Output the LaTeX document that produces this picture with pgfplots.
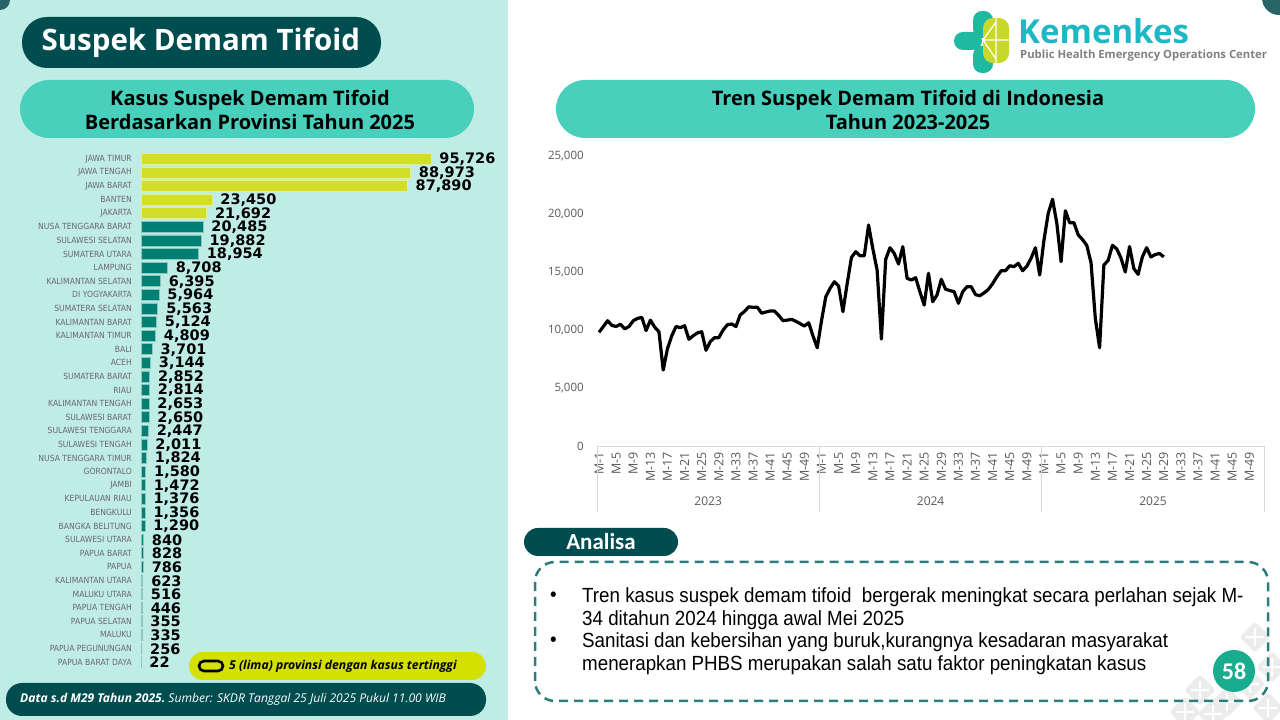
\documentclass[border=0pt]{standalone}
\usepackage{fontspec}
\setmainfont{Open Sans}
\newfontfamily\dvs{DejaVu Sans}
\newfontfamily\dvc{DejaVu Sans Condensed}
\newfontfamily\narrow{Liberation Sans}[FakeStretch=0.915]
\newfontfamily\carl{Carlito}
\usepackage{pgfplots}
\pgfplotsset{compat=1.18}
\usepackage{pgfplotstable}

\definecolor{leftbg}{RGB}{192,236,230}
\definecolor{darkteal}{RGB}{0,77,80}
\definecolor{pilltq}{RGB}{72,208,188}
\definecolor{limepill}{RGB}{212,224,0}
\definecolor{limebar}{RGB}{210,222,40}
\definecolor{tealbar}{RGB}{0,128,115}
\definecolor{dashteal}{RGB}{46,125,125}
\definecolor{circ}{RGB}{26,172,142}
\definecolor{kem}{RGB}{30,183,196}
\definecolor{logoteal}{RGB}{29,185,160}
\definecolor{logolime}{RGB}{200,217,44}
\definecolor{tickgray}{RGB}{89,89,89}
\definecolor{provgray}{RGB}{105,105,105}
\definecolor{corner}{RGB}{40,100,100}
\definecolor{batik}{RGB}{236,236,236}

% kasus per provinsi 2025 (5 tertinggi)
\pgfplotstableread{
idx val
0 95726
1 88973
2 87890
3 23450
4 21692
}\topfive

\pgfplotstableread{
idx val
5 20485
6 19882
7 18954
8 8708
9 6395
10 5964
11 5563
12 5124
13 4809
14 3701
15 3144
16 2852
17 2814
18 2653
19 2650
20 2447
21 2011
22 1824
23 1580
24 1472
25 1376
26 1356
27 1290
28 840
29 828
30 786
31 623
32 516
33 446
34 355
35 335
36 256
37 22
}\others

% tren mingguan: k = minggu ke- sejak M-1 2023
\pgfplotstableread{
k v
0 9800
1 10300
2 10800
3 10400
4 10300
5 10500
6 10100
7 10300
8 10800
9 11000
10 11090
11 9950
12 10850
13 10250
14 9850
15 6550
16 8400
17 9500
18 10300
19 10200
20 10370
21 9200
22 9500
23 9750
24 9850
25 8250
26 9000
27 9340
28 9340
29 10000
30 10450
31 10520
32 10300
33 11300
34 11600
35 12000
36 11950
37 11960
38 11450
39 11550
40 11640
41 11640
42 11250
43 10800
44 10850
45 10920
46 10750
47 10550
48 10340
49 10630
50 9500
51 8470
52 10800
53 12870
54 13590
55 14160
56 13790
57 11580
58 14000
59 16260
60 16750
61 16400
62 16400
63 19050
64 17000
65 15170
66 9220
67 16090
68 17090
69 16610
70 15690
71 17180
72 14460
73 14310
74 14510
75 13300
76 12150
77 14890
78 12440
79 13020
80 14370
81 13510
82 13400
83 13300
84 12300
85 13300
86 13730
87 13730
88 13050
89 12950
90 13200
91 13500
92 14000
93 14600
94 15110
95 15110
96 15540
97 15460
98 15750
99 15110
100 15500
101 16200
102 17090
103 14740
104 17760
105 20060
106 21270
107 19200
108 15890
109 20280
110 19250
111 19250
112 18200
113 17800
114 17300
115 15800
116 11000
117 8470
118 15600
119 16000
120 17300
121 17000
122 16200
123 15000
124 17200
125 15300
126 14800
127 16300
128 17100
129 16300
130 16500
131 16600
132 16300
}\trend

\begin{document}
\begin{tikzpicture}[x=1pt,y=1pt]
\useasboundingbox (0,0) rectangle (1280,720);
\clip (0,0) rectangle (1280,720);
\fill[white] (0,0) rectangle (1280,720);
\fill[leftbg] (0,0) rectangle (508,720);
\fill[corner] (0,720) circle (10);
\fill[corner] (1279,722) circle (17);

% judul
\fill[darkteal, rounded corners=25pt] (22,720-68) rectangle (381,720-17);
\node[anchor=west, text=white, font=\bfseries\fontsize{29.5}{33}\selectfont] at (38,720-43) {Suspek Demam Tifoid};

\fill[pilltq, rounded corners=29pt] (20,720-138) rectangle (474,720-80);
\node[align=center, font=\bfseries\fontsize{20}{24}\selectfont] at (250,720-110) {Kasus Suspek Demam Tifoid\\Berdasarkan Provinsi Tahun 2025};

\fill[pilltq, rounded corners=29pt] (556,720-138) rectangle (1255,720-80);
\node[align=center, font=\bfseries\fontsize{20}{24}\selectfont] at (908,720-110) {Tren Suspek Demam Tifoid di Indonesia\\Tahun 2023-2025};

% logo
\fill[logoteal, rounded corners=9pt] (973,720-38) rectangle (993,720-11);
\fill[logoteal, rounded corners=9pt] (954,720-50) rectangle (982,720-32);
\fill[logoteal, rounded corners=9pt] (973,720-73) rectangle (993,720-46);
\fill[logolime, rounded corners=10pt] (983,720-63) rectangle (1009,720-18);
\draw[white, line width=1.2pt] (983,720-40) -- (1009,720-40) (996,720-18) -- (996,720-63) (983,720-40) -- (996,720-22) (983,720-40) -- (996,720-59);
\node[anchor=west, text=kem, inner sep=0, font=\bfseries\fontsize{33}{36}\selectfont] at (1018,720-31) {Kemenkes};
\node[anchor=west, text=gray, inner sep=0, font=\bfseries\fontsize{11.3}{13}\selectfont] at (1020,720-56) {Public Health Emergency Operations Center};

% grafik batang provinsi
\begin{axis}[
  at={(141pt,51.2pt)}, anchor=south west, scale only axis,
  width=363.6pt, height=516.8pt,
  xbar, bar width=11pt,
  xmin=0, xmax=120000, ymin=-0.5, ymax=37.5, y dir=reverse,
  axis line style={draw=none}, xtick=\empty, major tick length=0pt, tick style={draw=none},
  ytick={0,...,37},
  yticklabels={JAWA TIMUR,JAWA TENGAH,JAWA BARAT,BANTEN,JAKARTA,NUSA TENGGARA BARAT,SULAWESI SELATAN,SUMATERA UTARA,LAMPUNG,KALIMANTAN SELATAN,DI YOGYAKARTA,SUMATERA SELATAN,KALIMANTAN BARAT,KALIMANTAN TIMUR,BALI,ACEH,SUMATERA BARAT,RIAU,KALIMANTAN TENGAH,SULAWESI BARAT,SULAWESI TENGGARA,SULAWESI TENGAH,NUSA TENGGARA TIMUR,GORONTALO,JAMBI,KEPULAUAN RIAU,BENGKULU,BANGKA BELITUNG,SULAWESI UTARA,PAPUA BARAT,PAPUA,KALIMANTAN UTARA,MALUKU UTARA,PAPUA TENGAH,PAPUA SELATAN,MALUKU,PAPUA PEGUNUNGAN,PAPUA BARAT DAYA},
  yticklabel style={font=\dvc\fontsize{8.5}{10}\selectfont, text=provgray, inner sep=0pt, xshift=-9pt},
  clip=false,
  point meta=x,
  nodes near coords={\pgfmathprintnumber[fixed,precision=0,1000 sep={,},assume math mode=true]{\pgfplotspointmeta}},
  nodes near coords align=horizontal,
  every node near coord/.append style={font=\dvs\bfseries\fontsize{14.5}{16}\selectfont, text=black, inner sep=0pt, xshift=8pt, yshift=-0.5pt},
]
\addplot[fill=limebar, draw=limebar!55!white, line width=0.8pt, bar shift=0pt] table[x=val,y=idx]{\topfive};
\addplot[fill=tealbar, draw=tealbar!45!white, line width=0.8pt, bar shift=0pt] table[x=val,y=idx]{\others};
\end{axis}

% legenda dan sumber
\fill[limepill, rounded corners=14pt] (189,720-680) rectangle (486,720-652);
\draw[black, line width=2.6pt, rounded corners=5pt] (199,720-671) rectangle (223,720-661);
\node[anchor=west, inner sep=0, font=\bfseries\itshape\fontsize{12.2}{14}\selectfont] at (229,720-666) {5 (lima) provinsi dengan kasus tertinggi};
\fill[darkteal, rounded corners=16pt] (6,720-716) rectangle (486,720-683);
\node[anchor=west, inner sep=0, text=white, font=\itshape\fontsize{12.1}{14}\selectfont] at (20,720-699) {\bfseries Data s.d M29 Tahun 2025.\mdseries\ Sumber: SKDR Tanggal 25 Juli 2025 Pukul 11.00 WIB};

% grafik tren
\begin{axis}[
  at={(596.9pt,274pt)}, anchor=south west, scale only axis,
  width=667.4pt, height=290pt,
  xmin=-0.5, xmax=155.5, ymin=0, ymax=25000,
  axis line style={draw=none}, major tick length=0pt, tick style={draw=none},
  ytick={0,5000,...,25000}, scaled y ticks=false,
  yticklabel style={/pgf/number format/fixed, /pgf/number format/1000 sep={,}, /pgf/number format/assume math mode=true},
  yticklabel style={font=\fontsize{11.5}{13}\selectfont, text=tickgray, inner sep=0pt, xshift=-13pt},
  xtick={0,4,...,152},
  xticklabels={M-1,M-5,M-9,M-13,M-17,M-21,M-25,M-29,M-33,M-37,M-41,M-45,M-49,M-1,M-5,M-9,M-13,M-17,M-21,M-25,M-29,M-33,M-37,M-41,M-45,M-49,M-1,M-5,M-9,M-13,M-17,M-21,M-25,M-29,M-33,M-37,M-41,M-45,M-49},
  xticklabel style={rotate=90, anchor=east, inner sep=0pt, font=\fontsize{12.5}{14}\selectfont, text=tickgray},
  xticklabel shift=6pt,
  clip=false,
]
\draw[gray!30, line width=0.8pt] (axis cs:-0.5,0) -- (axis cs:155.5,0);
\pgfplotsinvokeforeach{-0.5,51.5,103.5,155.5}{
  \draw[gray!30, line width=0.8pt] (axis cs:#1,0) -- ++(0pt,-66pt);
}
\node[font=\fontsize{12}{14}\selectfont, text=tickgray, yshift=-55pt] at (axis cs:25.5,0) {2023};
\node[font=\fontsize{12}{14}\selectfont, text=tickgray, yshift=-55pt] at (axis cs:77.5,0) {2024};
\node[font=\fontsize{12}{14}\selectfont, text=tickgray, yshift=-55pt] at (axis cs:129.5,0) {2025};
\addplot[black, line width=3.2pt, line join=round, no marks] table[x=k,y=v]{\trend};
\end{axis}

% motif batik di pojok kanan bawah
\begin{scope}[batik]
\foreach \cx/\cy in {1255/637,1272/667,1250/684,1200/690,1227/702,1268/708,1213/714,1185/712} {
  \fill[rotate around={45:(\cx,720-\cy)}, rounded corners=3pt] (\cx-11,720-\cy-11) rectangle (\cx+11,720-\cy+11);
  \fill[white] (\cx-1,720-\cy-9) rectangle (\cx+1,720-\cy+9);
  \fill[white] (\cx-9,720-\cy-1) rectangle (\cx+9,720-\cy+1);
}
\end{scope}

% analisa
\fill[darkteal, rounded corners=14pt] (524,720-556) rectangle (678,720-528);
\node[text=white, font=\carl\bfseries\fontsize{23}{26}\selectfont] at (601,720-542) {Analisa};
\draw[dashteal, line width=2.5pt, dash pattern=on 9pt off 6pt, rounded corners=20pt] (535,720-701) rectangle (1268,720-562);
\begin{scope}[every node/.style={anchor=west, inner sep=0, font=\narrow\fontsize{20.5}{24}\selectfont}]
\node at (550,720-597) {•};
\node at (550,720-642) {•};
\node at (582,720-597) {Tren kasus suspek demam tifoid\ \ bergerak meningkat secara perlahan sejak M-};
\node at (582,720-620) {34 ditahun 2024 hingga awal Mei 2025};
\node at (582,720-642) {Sanitasi dan kebersihan yang buruk,kurangnya kesadaran masyarakat};
\node at (582,720-665) {menerapkan PHBS merupakan salah satu faktor peningkatan kasus};
\end{scope}
\fill[circ] (1234,720-671) circle (21);
\node[text=white, font=\carl\bfseries\fontsize{24}{26}\selectfont] at (1234,720-671) {58};
\end{tikzpicture}
\end{document}
